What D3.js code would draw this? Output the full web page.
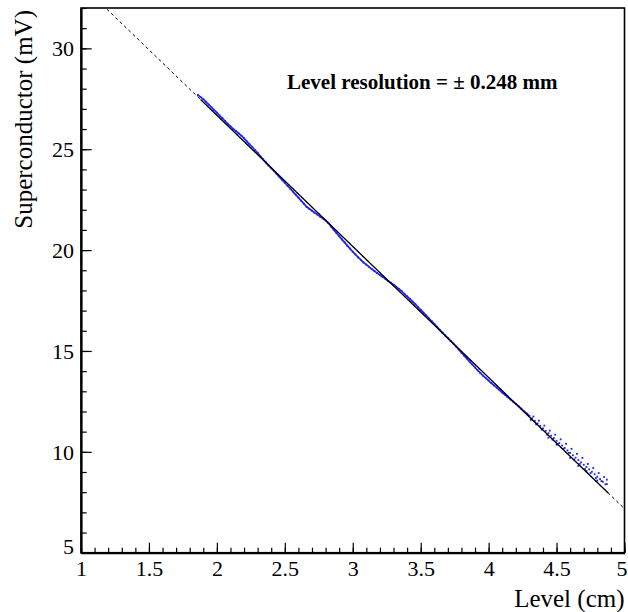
<!DOCTYPE html>
<html lang="en">
<head>
<meta charset="utf-8">
<title>Superconductor level sensor calibration</title>
<script src="https://d3js.org/d3.v7.min.js"></script>
<style>
  body { margin: 0; background: #fff; }
  svg text { font-family: "Liberation Serif", "Times New Roman", serif; fill: #000; }
</style>
</head>
<body>
<div id="my_dataviz"></div>
<script>
var levelCm = [
  1.86, 1.88, 1.90, 1.92, 1.94, 1.96, 1.98, 2.00, 2.02, 2.04, 2.06, 2.08, 2.10, 2.12, 2.14, 2.16, 2.18, 2.20, 2.22, 2.24,
  2.26, 2.28, 2.30, 2.32, 2.34, 2.36, 2.38, 2.40, 2.42, 2.44, 2.46, 2.48, 2.50, 2.52, 2.54, 2.56, 2.58, 2.60, 2.62, 2.64,
  2.66, 2.68, 2.70, 2.72, 2.74, 2.76, 2.78, 2.80, 2.82, 2.84, 2.86, 2.88, 2.90, 2.92, 2.94, 2.96, 2.98, 3.00, 3.02, 3.04,
  3.06, 3.08, 3.10, 3.12, 3.14, 3.16, 3.18, 3.20, 3.22, 3.24, 3.26, 3.28, 3.30, 3.32, 3.34, 3.36, 3.38, 3.40, 3.42, 3.44,
  3.46, 3.48, 3.50, 3.52, 3.54, 3.56, 3.58, 3.60, 3.62, 3.64, 3.66, 3.68, 3.70, 3.72, 3.74, 3.76, 3.78, 3.80, 3.82, 3.84,
  3.86, 3.88, 3.90, 3.92, 3.94, 3.96, 3.98, 4.00, 4.02, 4.04, 4.06, 4.08, 4.10, 4.12, 4.14, 4.16, 4.18, 4.20, 4.22, 4.24,
  4.26, 4.28, 4.30, 4.32, 4.34, 4.36, 4.38, 4.40, 4.42, 4.44, 4.46, 4.48, 4.50, 4.52, 4.54, 4.56, 4.58, 4.60, 4.62, 4.64,
  4.66, 4.68, 4.70, 4.72, 4.74, 4.76, 4.78, 4.80, 4.82, 4.84, 4.86
];
var voltageMv = [
  27.69, 27.58, 27.48, 27.35, 27.21, 27.08, 26.94, 26.81, 26.67, 26.54, 26.40, 26.26, 26.13, 26.01, 25.90, 25.79, 25.67, 25.54, 25.39, 25.24,
  25.11, 24.96, 24.82, 24.65, 24.50, 24.35, 24.20, 24.06, 23.92, 23.77, 23.63, 23.48, 23.34, 23.19, 23.05, 22.90, 22.75, 22.60, 22.45, 22.30,
  22.15, 22.05, 21.95, 21.85, 21.76, 21.66, 21.57, 21.47, 21.34, 21.17, 21.01, 20.85, 20.69, 20.53, 20.38, 20.22, 20.07, 19.92, 19.78, 19.64,
  19.51, 19.38, 19.28, 19.17, 19.06, 18.96, 18.86, 18.76, 18.67, 18.57, 18.47, 18.38, 18.28, 18.18, 18.07, 17.96, 17.83, 17.71, 17.58, 17.45,
  17.32, 17.18, 17.04, 16.90, 16.76, 16.62, 16.48, 16.34, 16.20, 16.05, 15.91, 15.77, 15.64, 15.50, 15.37, 15.22, 15.07, 14.92, 14.77, 14.62,
  14.47, 14.33, 14.18, 14.04, 13.90, 13.77, 13.65, 13.53, 13.41, 13.29, 13.18, 13.06, 12.94, 12.83, 12.71, 12.60, 12.49, 12.38, 12.26, 12.14,
  12.01, 11.90, 11.78, 11.66, 11.54, 11.41, 11.29, 11.16, 11.04, 10.92, 10.80, 10.68, 10.55, 10.43, 10.31, 10.19, 10.07, 9.95, 9.83, 9.71,
  9.59, 9.48, 9.36, 9.25, 9.13, 9.01, 8.89, 8.77, 8.65, 8.52, 8.39
];
// noisier readings near the bottom of the range
var tailLevelCm = [
  4.31, 4.33, 4.35, 4.37, 4.39, 4.41, 4.43, 4.44, 4.45, 4.47, 4.49, 4.50, 4.51, 4.53, 4.55, 4.57, 4.59, 4.60, 4.61, 4.63,
  4.65, 4.66, 4.67, 4.69, 4.71, 4.72, 4.73, 4.75, 4.77, 4.79, 4.80, 4.81, 4.83, 4.85, 4.87, 4.87
];
var tailVoltageMv = [
  11.58, 11.75, 11.36, 11.55, 11.10, 11.30, 10.85, 10.70, 11.05, 10.60, 10.85, 10.35, 10.38, 10.62, 10.15, 10.40, 9.95, 9.70, 10.15, 9.62,
  9.90, 9.30, 9.40, 9.70, 9.15, 9.05, 9.40, 8.95, 9.20, 8.70, 8.58, 8.95, 8.55, 8.75, 8.40, 8.62
];

// axes
var xTicks = [1, 1.5, 2, 2.5, 3, 3.5, 4, 4.5, 5];
var xTickLabels = ["1", "1.5", "2", "2.5", "3", "3.5", "4", "4.5", "5"];
var yTicks = [5, 10, 15, 20, 25, 30];
var yTickLabels = ["5", "10", "15", "20", "25", "30"];
var xAxisLabel = "Level (cm)";
var yAxisLabel = "Superconductor (mV)";

// straight line fit
var fitIntercept = 39.68;
var fitSlope = -6.5;
var fitRange = [1.88, 4.88];
var resolutionLabel = "Level resolution = \u00b1 0.248 mm";

var serif = "'Liberation Serif', 'Times New Roman', serif";

// set the dimensions and margins of the graph
var margin = {top: 8, right: 3.5, bottom: 59.3, left: 81},
    width = 628 - margin.left - margin.right,
    height = 612 - margin.top - margin.bottom;

var svg = d3.select("#my_dataviz")
  .append("svg")
    .attr("width", 628)
    .attr("height", 612)
  .append("g")
    .attr("transform", "translate(" + margin.left + "," + margin.top + ")");

var x = d3.scaleLinear().domain([1, 5]).range([0, width]);
var y = d3.scaleLinear().domain([5, 32]).range([height, 0]);

svg.append("clipPath").attr("id", "plotclip")
  .append("rect").attr("width", width).attr("height", height);

// frame
svg.append("rect")
  .attr("width", width)
  .attr("height", height)
  .attr("fill", "none")
  .attr("stroke", "#000")
  .attr("stroke-width", 1.6);

// minor ticks (inside the frame)
svg.append("g")
  .attr("transform", "translate(0," + height + ")")
  .call(d3.axisBottom(x).ticks(40).tickSizeInner(-5).tickSizeOuter(0).tickFormat(""))
  .call(function(g) { g.select(".domain").remove(); });
svg.append("g")
  .call(d3.axisLeft(y).ticks(27).tickSizeInner(-5.7).tickSizeOuter(0).tickFormat(""))
  .call(function(g) { g.select(".domain").remove(); });

// major ticks + labels
var xAxis = svg.append("g")
  .attr("transform", "translate(0," + height + ")")
  .call(d3.axisBottom(x).tickValues(xTicks).tickSizeInner(-10).tickSizeOuter(0).tickPadding(7)
    .tickFormat(function(d, i) { return xTickLabels[i]; }));
xAxis.attr("font-family", serif);
xAxis.selectAll("text")
  .attr("font-size", 22)
  .attr("dy", "0.72em")
  .attr("dx", function(d) { return d === xTicks[xTicks.length - 1] ? -3 : 0; });

var yAxis = svg.append("g")
  .call(d3.axisLeft(y).tickValues(yTicks).tickSizeInner(-10.7).tickSizeOuter(0).tickPadding(7)
    .tickFormat(function(d, i) { return yTickLabels[i]; }));
yAxis.attr("font-family", serif);
yAxis.selectAll("text").attr("font-size", 22)
  .attr("dy", function(d) { return d === yTicks[0] ? "0.05em" : "0.34em"; });

svg.selectAll(".domain").attr("stroke-width", 2.2);
svg.selectAll(".tick line").attr("stroke-width", 1.2);

// axis titles
svg.append("text")
  .attr("x", width)
  .attr("y", height + 54)
  .attr("text-anchor", "end")
  .attr("font-family", serif)
  .attr("font-size", 25)
  .text(xAxisLabel);

svg.append("text")
  .attr("transform", "rotate(-90)")
  .attr("x", -2)
  .attr("y", -49)
  .attr("text-anchor", "end")
  .attr("font-family", serif)
  .attr("font-size", 25)
  .text(yAxisLabel);

// fit line, dashed over the full range
var plot = svg.append("g").attr("clip-path", "url(#plotclip)");
plot.append("line")
  .attr("x1", x(1)).attr("y1", y(fitIntercept + fitSlope * 1))
  .attr("x2", x(5)).attr("y2", y(fitIntercept + fitSlope * 5))
  .attr("stroke", "#000")
  .attr("stroke-width", 1)
  .attr("stroke-dasharray", "3,3");

// measured points: the dense part reads as a continuous band
var pts = levelCm.map(function(d, i) { return [d, voltageMv[i]]; });
plot.append("path")
  .datum(pts.filter(function(d) { return d[0] <= 4.3; }))
  .attr("fill", "none")
  .attr("stroke", "#2020ff")
  .attr("stroke-width", 1.7)
  .attr("stroke-linejoin", "round")
  .attr("d", d3.line()
    .x(function(d) { return x(d[0]); })
    .y(function(d) { return y(d[1]); }));

var allPts = pts.concat(tailLevelCm.map(function(d, i) { return [d, tailVoltageMv[i]]; }));
plot.append("g")
  .selectAll("rect")
  .data(allPts)
  .enter()
  .append("rect")
    .attr("x", function(d) { return x(d[0]) - 0.9; })
    .attr("y", function(d) { return y(d[1]) - 0.9; })
    .attr("width", 1.8)
    .attr("height", 1.8)
    .attr("fill", "#1f1fff");

// solid fit over the fitted range
plot.append("line")
  .attr("x1", x(fitRange[0])).attr("y1", y(fitIntercept + fitSlope * fitRange[0]))
  .attr("x2", x(fitRange[1])).attr("y2", y(fitIntercept + fitSlope * fitRange[1]))
  .attr("stroke", "#000")
  .attr("stroke-width", 1.3);

// resolution text
svg.append("text")
  .attr("x", 206)
  .attr("y", 81)
  .attr("font-family", serif)
  .attr("font-size", 21)
  .attr("font-weight", "bold")
  .text(resolutionLabel);
</script>
</body>
</html>
